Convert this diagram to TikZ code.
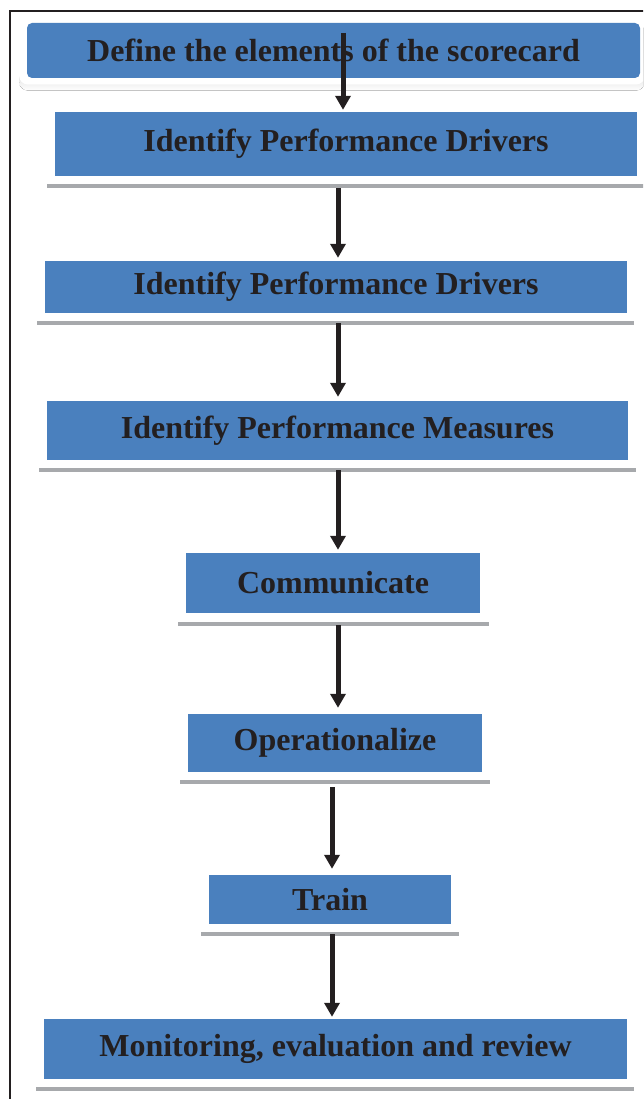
\documentclass[tikz,border=0pt]{standalone}
\usepackage{fontspec}
\setmainfont{Liberation Serif}
\usetikzlibrary{arrows.meta}
\definecolor{boxblue}{RGB}{74,128,190}
\definecolor{ink}{RGB}{35,31,32}
\definecolor{shade}{RGB}{167,169,172}
\begin{document}
\begin{tikzpicture}[x=1pt,y=-1pt,
  stepbox/.style={fill=boxblue, text=ink, inner sep=0pt, anchor=center,
    font=\fontsize{32}{36}\selectfont\bfseries},
  shadeline/.style={draw=shade, line width=3.5pt},
  flow/.style={draw=ink, line width=5pt, -{Triangle[width=15pt,length=14pt]}},
  frameline/.style={draw=ink, line width=1.2pt}]
\useasboundingbox (0,0) rectangle (643,1099);
\clip (0,0) rectangle (643,1099);
% outer frame
\draw[frameline] (10,1110) -- (10,11) -- (660,11);
% top box with white rounded border and gray shadow
\fill[shade, rounded corners=9pt] (19,24) rectangle (645,90.5);
\fill[white, rounded corners=9pt] (19,19) rectangle (645,84.5);
\node[stepbox, rounded corners=5pt, minimum width=613pt, minimum height=55pt] (b1) at (333.5,50.5) {Define the elements of the scorecard};
% boxes
\node[stepbox, minimum width=582pt, minimum height=64pt] (b2) at (346,144) {Identify Performance Drivers};
\node[stepbox, minimum width=582pt, minimum height=52pt] (b3) at (336,287) {Identify Performance Drivers};
\node[stepbox, minimum width=581pt, minimum height=59pt] (b4) at (337.5,430.5) {Identify Performance Measures};
\node[stepbox, minimum width=294pt, minimum height=60pt] (b5) at (333,583) {Communicate};
\node[stepbox, minimum width=294pt, minimum height=58pt] (b6) at (335,743) {Operationalize};
\node[stepbox, minimum width=242pt, minimum height=49pt] (b7) at (330,899.5) {Train};
\node[stepbox, minimum width=583pt, minimum height=60pt] (b8) at (335.5,1049) {Monitoring, evaluation and review};
% gray lines under boxes
\draw[shadeline] (47,186) -- (645,186);
\draw[shadeline] (37,323) -- (634,323);
\draw[shadeline] (39,470) -- (636,470);
\draw[shadeline] (178,624) -- (489,624);
\draw[shadeline] (180,782) -- (490,782);
\draw[shadeline] (201,934) -- (459,934);
\draw[shadeline] (36,1089) -- (634,1089);
% arrows
\draw[flow] ([xshift=9.5pt,yshift=-10pt]b1.north) -- ([xshift=-3pt,yshift=2pt]b2.north);
\draw[flow] ([xshift=-8pt,yshift=-12pt]b2.south) -- ([xshift=2pt,yshift=3pt]b3.north);
\draw[flow] ([xshift=2pt,yshift=-10pt]b3.south) -- ([xshift=0.5pt,yshift=4pt]b4.north);
\draw[flow] ([xshift=0.5pt,yshift=-10pt]b4.south) -- ([xshift=5pt,yshift=3pt]b5.north);
\draw[flow] ([xshift=5pt,yshift=-12pt]b5.south) -- ([xshift=3pt,yshift=6pt]b6.north);
\draw[flow] ([xshift=-3pt,yshift=-15pt]b6.south) -- ([xshift=2pt,yshift=6pt]b7.north);
\draw[flow] ([xshift=2pt,yshift=-10pt]b7.south) -- ([xshift=-3.5pt,yshift=2pt]b8.north);
\end{tikzpicture}
\end{document}
